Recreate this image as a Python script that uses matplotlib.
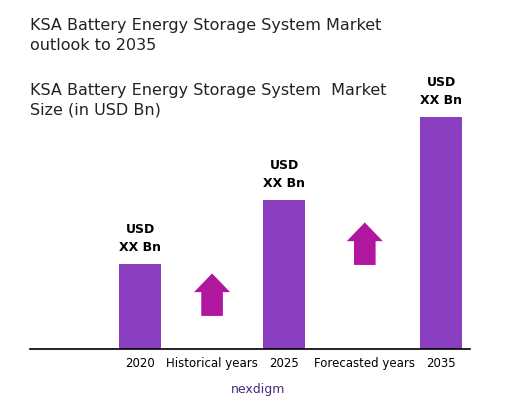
import matplotlib.pyplot as plt
from matplotlib.patches import FancyArrow

years = ['2020', '2025', '2035']
values = [1.0, 1.75, 2.73]
bar_labels = ['USD\nXX Bn', 'USD\nXX Bn', 'USD\nXX Bn']
positions = [0, 1, 2.09]
period_labels = ['Historical years', 'Forecasted years']
period_pos = [0.5, 1.56]

fig = plt.figure(figsize=(5.17, 4.04), dpi=100)
ax = fig.add_axes([0.058, 0.136, 0.851, 0.715])

ax.bar(positions, values, width=0.29, color='#8A3FC0')
for x, v, lab in zip(positions, values, bar_labels):
    ax.text(x, v + 0.12, lab, ha='center', va='bottom', fontsize=9,
            fontweight='bold', linespacing=1.5)

# growth arrows
for x, y0 in zip(period_pos, [0.39, 0.99]):
    ax.add_patch(FancyArrow(x, y0, 0, 0.5, width=0.15, head_width=0.25,
                            head_length=0.22, length_includes_head=True,
                            color='#B0169E', lw=0))

ax.set_xlim(-0.764, 2.29)
ax.set_ylim(0, 3.4)
ax.set_xticks(positions + period_pos)
ax.set_xticklabels(years + period_labels, fontsize=8.5)
ax.tick_params(axis='x', length=0, pad=6)
ax.set_yticks([])
for s in ['top', 'right', 'left']:
    ax.spines[s].set_visible(False)
ax.spines['bottom'].set_linewidth(1.2)

fig.text(0.058, 0.955, 'KSA Battery Energy Storage System Market\noutlook to 2035',
         fontsize=11.5, va='top', color='#222222', linespacing=1.4)
fig.text(0.058, 0.795, 'KSA Battery Energy Storage System  Market\nSize (in USD Bn)',
         fontsize=11.5, va='top', color='#222222', linespacing=1.4)
fig.text(0.5, 0.035, 'nexdigm', fontsize=9, color='#4a2a7a', ha='center', va='center')

fig.savefig('out.png', dpi=100)
